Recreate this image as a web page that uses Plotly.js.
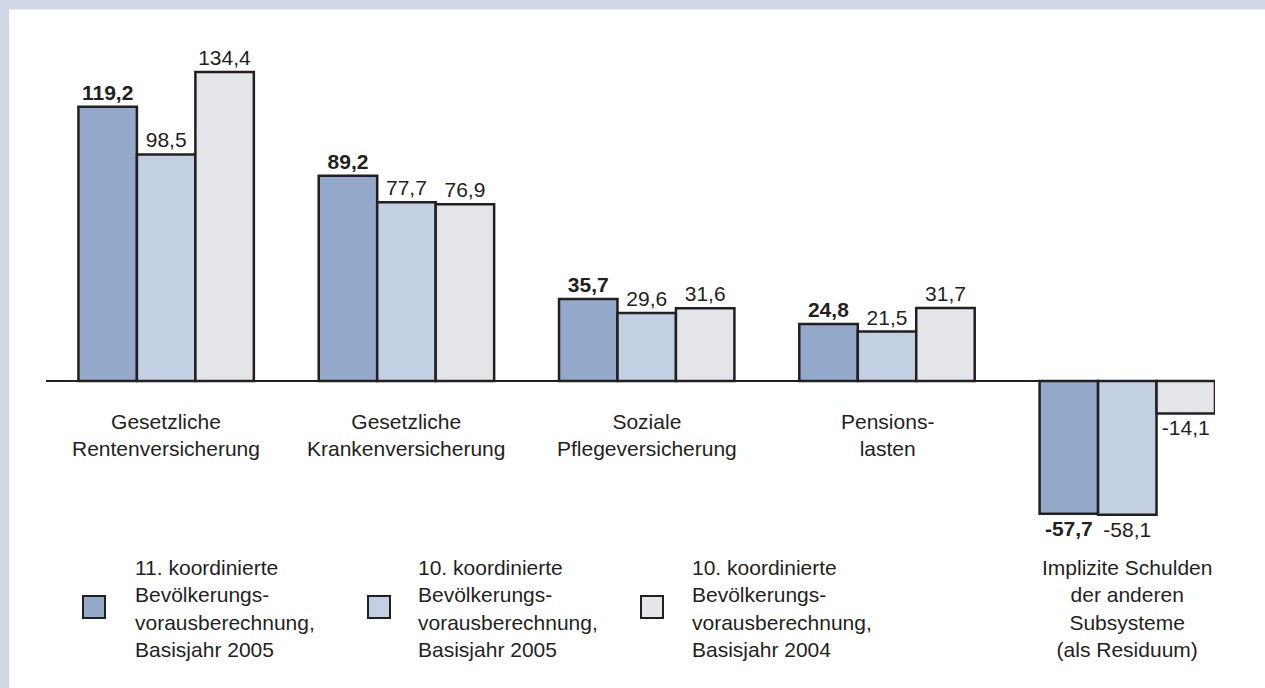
<!DOCTYPE html>
<html><head><meta charset="utf-8">
<script src="https://cdn.plot.ly/plotly-3.0.1.min.js"></script>
<style>html,body{margin:0;padding:0;background:#fff}</style>
</head><body><div id="chart" style="width:1265px;height:688px"></div>
<script>
// ---- data ----
const categories = [
  'Gesetzliche<br>Rentenversicherung',
  'Gesetzliche<br>Krankenversicherung',
  'Soziale<br>Pflegeversicherung',
  'Pensions-<br>lasten',
  'Implizite Schulden<br>der anderen<br>Subsysteme<br>(als Residuum)'
];
const seriesNames = [
  '11. koordinierte<br>Bevölkerungs-<br>vorausberechnung,<br>Basisjahr 2005',
  '10. koordinierte<br>Bevölkerungs-<br>vorausberechnung,<br>Basisjahr 2005',
  '10. koordinierte<br>Bevölkerungs-<br>vorausberechnung,<br>Basisjahr 2004'
];
const values11_2005 = [119.2, 89.2, 35.7, 24.8, -57.7];
const values10_2005 = [98.5, 77.7, 29.6, 21.5, -58.1];
const values10_2004 = [134.4, 76.9, 31.6, 31.7, -14.1];

// ---- styling ----
const W = 1265, H = 688;
const PL = 46, PR = 1215, PT = 20, PB = 540;
const colors = ['#94a9c9', '#c3cfe3', '#e4e5e8'];
const ink = '#231f20';
const fontFam = 'Liberation Sans, Arial, Helvetica, sans-serif';
const fs = 21;

const px2x = p => (p - PL) / (PR - PL);
const px2y = p => (PB - p) / (PB - PT);

const allSeries = [values11_2005, values10_2005, values10_2004];
const traces = allSeries.map((vals, i) => ({
  type: 'bar',
  name: seriesNames[i],
  x: categories,
  y: vals,
  marker: {color: colors[i], line: {color: ink, width: 2.5}},
  texttemplate: '%{y:.1f}',
  textposition: 'outside',
  constraintext: 'none',
  cliponaxis: false,
  textfont: {family: fontFam, size: fs, color: ink, weight: i === 0 ? 'bold' : 'normal'},
  showlegend: false,
  hoverinfo: 'skip'
}));

// category labels
const annotations = categories.map((c, i) => ({
  x: c, xref: 'x',
  y: i < 4 ? px2y(408) : px2y(554), yref: 'paper',
  yanchor: 'top', xanchor: 'center', align: 'center',
  text: c, showarrow: false,
  font: {family: fontFam, size: fs, color: ink}
}));

// custom legend
const legendTextX = [133, 416, 690];
const legendMarkX = [83, 368, 641];
const shapes = [];
seriesNames.forEach((n, i) => {
  annotations.push({
    x: px2x(legendTextX[i]), xref: 'paper', xanchor: 'left',
    y: px2y(554), yref: 'paper', yanchor: 'top',
    align: 'left', text: n, showarrow: false,
    font: {family: fontFam, size: fs, color: ink}
  });
  shapes.push({
    type: 'rect', xref: 'paper', yref: 'paper',
    x0: px2x(legendMarkX[i]), x1: px2x(legendMarkX[i] + 22),
    y0: px2y(596), y1: px2y(618),
    fillcolor: colors[i], line: {color: ink, width: 2}
  });
});

// frame bands (top and left)
const frame = '#d0d8e7';
shapes.push({type: 'rect', xref: 'paper', yref: 'paper', layer: 'below',
  x0: px2x(0), x1: px2x(W), y0: px2y(9.5), y1: px2y(0), fillcolor: frame, line: {width: 0}});
shapes.push({type: 'rect', xref: 'paper', yref: 'paper', layer: 'below',
  x0: px2x(0), x1: px2x(9), y0: px2y(H), y1: px2y(0), fillcolor: frame, line: {width: 0}});

const scale = 2.3; // px per unit
const zeroPx = 381;
const layout = {
  width: W, height: H,
  margin: {l: PL, r: W - PR, t: PT, b: H - PB, pad: 0},
  paper_bgcolor: '#ffffff', plot_bgcolor: 'rgba(0,0,0,0)',
  separators: ',.',
  barmode: 'group', bargap: 0.27, bargroupgap: 0,
  showlegend: false,
  font: {family: fontFam, size: fs, color: ink},
  xaxis: {range: [-0.5, 4.365], showticklabels: false, showgrid: false, zeroline: false,
          showline: false, ticks: '', fixedrange: true},
  yaxis: {range: [-(PB - zeroPx) / scale, (zeroPx - PT) / scale], showticklabels: false,
          showgrid: false, zeroline: true, zerolinecolor: ink, zerolinewidth: 2.5,
          showline: false, ticks: '', fixedrange: true},
  annotations: annotations,
  shapes: shapes
};

Plotly.newPlot('chart', traces, layout, {displayModeBar: false, staticPlot: true});
</script>
</body></html>
